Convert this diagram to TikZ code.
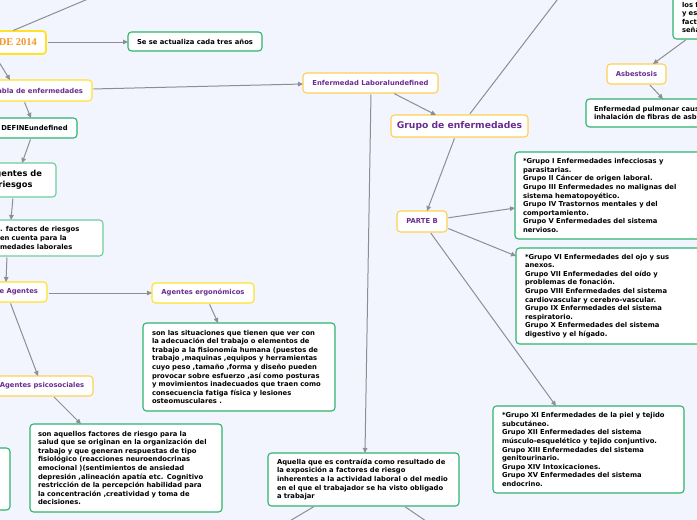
\documentclass[tikz,border=0pt]{standalone}
\usepackage{fontspec}
\setmainfont{DejaVu Sans}
\newfontfamily\serifb{Liberation Serif}
\usetikzlibrary{arrows.meta}
\definecolor{bgc}{RGB}{242,245,253}
\definecolor{yelA}{RGB}{255,226,40}
\definecolor{yelB}{RGB}{255,207,85}
\definecolor{grn}{RGB}{45,180,110}
\definecolor{grnL}{RGB}{110,205,155}
\definecolor{purp}{RGB}{105,45,145}
\definecolor{lg}{RGB}{140,142,148}
\definecolor{orng}{RGB}{245,150,40}
\tikzset{
 box/.style={rectangle, rounded corners=3.5pt, fill=white, line width=1.1pt, anchor=north west, inner ysep=0pt, outer sep=0pt, font=\fontsize{6.8}{8.6}\selectfont\bfseries},
 ybox/.style={box, draw=yelB, text=purp},
 ybA/.style={box, draw=yelA, text=purp},
 gbox/.style={box, draw=grn, text=black},
 gboxL/.style={box, draw=grnL, text=black},
 arr/.style={draw=lg, line width=1pt, -{Triangle[length=5pt,width=4.5pt]}, shorten <=1.5pt},
 ln/.style={draw=lg, line width=1pt, shorten <=1.5pt},
}
\begin{document}
\begin{tikzpicture}[x=1pt,y=-1pt]
\useasboundingbox (0,0) rectangle (697,520);
\fill[bgc] (0,0) rectangle (697,520);
\clip (0,0) rectangle (697,520);

\node[ybA, anchor=north east, line width=1.8pt, text=orng, font=\serifb\bfseries\fontsize{10.5}{12}\selectfont, inner xsep=9pt, minimum height=23pt] (dec) at (46,31) {DE 2014};
\node[gbox, minimum width=134pt, minimum height=19pt, inner xsep=0pt] (sese) at (128,32) {Se se actualiza cada tres años};
\node[ybA, anchor=north east, inner xsep=9pt, minimum height=21pt] (tabla) at (92,80) {Tabla de enfermedades};
\node[ybox, minimum width=135pt, minimum height=20pt] (lab) at (303,73) {Enfermedad Laboralundefined};
\node[gbox, minimum width=85pt, minimum height=20pt] (def) at (-8,118) {DEFINEundefined};
\node[gboxL, minimum width=81pt, minimum height=34pt, align=center, font=\fontsize{8.3}{11}\selectfont\bfseries] (adr) at (-25,163) {Agentes de\\riesgos};
\node[gboxL, text width=94pt, inner xsep=9pt, minimum height=36pt, align=left] (fac) at (-9,220) {. factores de riesgos\\en cuenta para la\\medades laborales};
\node[ybA, anchor=north east, inner xsep=9pt, minimum height=20pt] (tip) at (47,282) {e Agentes};
\node[ybA, minimum width=102pt, minimum height=20pt] (ergo) at (152,283) {Agentes ergonómicos};
\node[gbox, text width=174pt, inner xsep=9pt, minimum height=88pt, align=left] (ergoT) at (143,323) {son las situaciones que tienen que ver con\\la adecuación del trabajo o elementos de\\trabajo a la fisionomía humana (puestos de\\trabajo ,maquinas ,equipos y herramientas\\cuyo peso ,tamaño ,forma y diseño pueden\\provocar sobre esfuerzo ,así como posturas\\y movimientos inadecuados que traen como\\consecuencia fatiga física y lesiones\\osteomusculares .};
\node[ybox, minimum width=102pt, minimum height=20pt] (psi) at (-9,376) {Agentes psicosociales};
\node[gbox, text width=176pt, inner xsep=8pt, minimum height=88pt, align=left] (psiT) at (30,424) {son aquellos factores de riesgo para la\\salud que se originan en la organización del\\trabajo y que generan respuestas de tipo\\fisiológico (reacciones neuroendocrinas\\emocional )(sentimientos de ansiedad\\depresión ,alineación apatía etc. Cognitivo\\restricción de la percepción habilidad para\\la concentración ,creatividad y toma de\\decisiones.};
\node[gbox, minimum width=110pt, minimum height=62pt] (lft) at (-100,448) {};
\node[gbox, text width=173pt, inner xsep=9pt, minimum height=53pt, align=left] (aq) at (268,453) {Aquella que es contraída como resultado de\\la exposición a factores de riesgo\\inherentes a la actividad laboral o del medio\\en el que el trabajador se ha visto obligado\\a trabajar};
\node[ybox, minimum width=137pt, minimum height=22pt, font=\fontsize{9.2}{11}\selectfont\bfseries] (grp) at (391,115) {Grupo de enfermedades};
\node[ybox, minimum width=50pt, minimum height=21pt] (pb) at (397,211) {PARTE B};
\node[gbox, text width=184pt, inner xsep=8pt, minimum height=87pt, align=left] (g1) at (515,152) {*Grupo I Enfermedades infecciosas y\\parasitarias.\\*Grupo II Cáncer de origen laboral.\\*Grupo III Enfermedades no malignas del\\sistema hematopoyético.\\*Grupo IV Trastornos mentales y del\\comportamiento.\\*Grupo V Enfermedades del sistema\\nervioso.};
\node[gbox, text width=182pt, inner xsep=9pt, minimum height=96pt, align=left] (g2) at (516,248) {*Grupo VI Enfermedades del ojo y sus\\anexos.\\*Grupo VII Enfermedades del oído y\\problemas de fonación.\\*Grupo VIII Enfermedades del sistema\\cardiovascular y cerebro-vascular.\\*Grupo IX Enfermedades del sistema\\respiratorio.\\*Grupo X Enfermedades del sistema\\digestivo y el hígado.};
\node[gbox, text width=173pt, inner xsep=9pt, minimum height=87pt, align=left] (g3) at (493,406) {*Grupo XI Enfermedades de la piel y tejido\\subcutáneo.\\*Grupo XII Enfermedades del sistema\\músculo-esquelético y tejido conjuntivo.\\*Grupo XIII Enfermedades del sistema\\genitourinario.\\*Grupo XIV Intoxicaciones.\\*Grupo XV Enfermedades del sistema\\endocrino.};
\node[gbox, text width=40pt, inner xsep=9pt, minimum height=43pt, align=left] (tr) at (673,-4) {los f\\y es\\fact\\seña};
\node[ybox, minimum width=59pt, minimum height=20pt] (asb) at (607,64) {Asbestosis};
\node[gbox, text width=150pt, inner xsep=8pt, minimum height=28pt, align=left] (asbT) at (586,99) {Enfermedad pulmonar causada\\inhalación de fibras de asbesto};

\coordinate (o1) at (107,-9);
\coordinate (o2) at (271,532);
\coordinate (o3) at (442,532);
\coordinate (o4) at (567,-13);
\draw[ln] (dec.north -| 12,0) -- (o1);
\draw[arr] (dec.east |- 0,42) -- (sese.west |- 0,42);
\draw[arr] (dec.south -| -6,0) -- (tabla.north -| 10,0);
\draw[arr] (tabla.east |- 0,89) -- (lab.west |- 0,84);
\draw[arr] (tabla.south -| 24,0) -- (def.north -| 31,0);
\draw[arr] (def.south -| 31,0) -- (adr.north -| 22,0);
\draw[arr] (adr.south -| 13,0) -- (fac.north -| 11,0);
\draw[arr] (fac.south -| 7,0) -- (tip.north -| 6,0);
\draw[arr] (tip.east |- 0,293) -- (ergo.west |- 0,293);
\draw[arr] (ergo.south -| 209,0) -- (ergoT.north -| 218,0);
\draw[arr] (tip.south -| 10,0) -- (psi.north -| 38,0);
\draw[arr] (psi.south -| 53,0) -- (psiT.north -| 81,0);
\draw[arr] (lab.south -| 371,0) -- (aq.north -| 365,0);
\draw[arr] (aq.south -| 315,0) -- (o2);
\draw[arr] (aq.south -| 404,0) -- (o3);
\draw[arr] (lab.south -| 393,0) -- (grp.north -| 436,0);
\draw[ln] (grp.north -| 469,0) -- (o4);
\draw[arr] (grp.south -| 455,0) -- (pb.north -| 427,0);
\draw[arr] (pb.east |- 0,218) -- (g1.west |- 0,208);
\draw[arr] (pb.east |- 0,228) -- (g2.west |- 0,256);
\draw[arr] (pb.south -| 430,0) -- (g3.north -| 556,0);
\draw[arr] (tr.south -| 687,0) -- (asb.north -| 653,0);
\draw[arr] (asb.south -| 649,0) -- (asbT.north -| 663,0);
\end{tikzpicture}
\end{document}
